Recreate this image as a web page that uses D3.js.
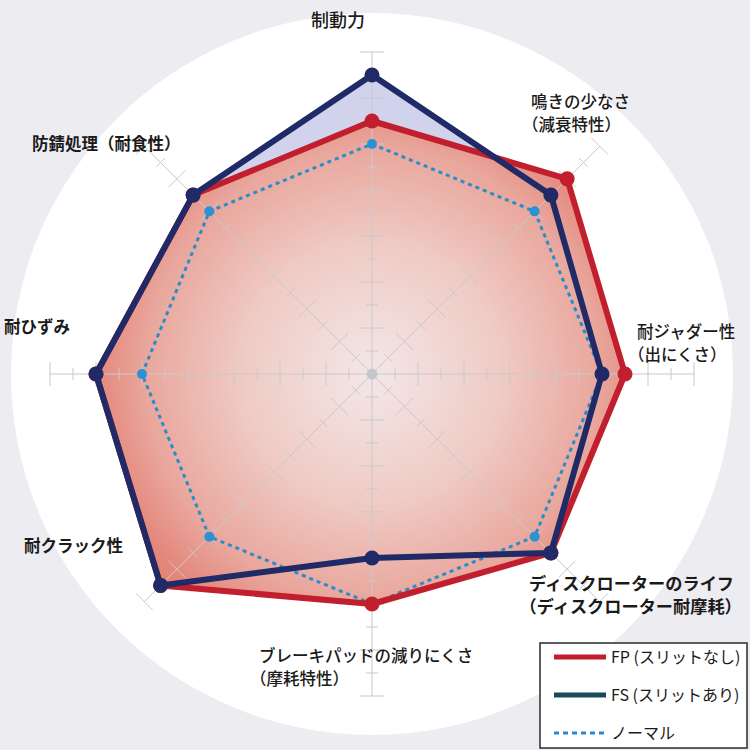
<!DOCTYPE html>
<html>
<head>
<meta charset="utf-8">
<script src="https://cdn.jsdelivr.net/npm/d3@7"></script>
<style>
  html, body { margin: 0; padding: 0; background: #ededf1; }
  svg { display: block; }
</style>
</head>
<body>
<svg id="chart" width="750" height="750"></svg>
<script>
// axes, clockwise from the top
const axes = ['制動力', '鳴きの少なさ', '耐ジャダー性', 'ディスクローターのライフ',
  'ブレーキパッドの減りにくさ', '耐クラック性', '耐ひずみ', '防錆処理（耐食性）'];
const fpValues = [5.5, 6, 5.5, 5.5, 5, 6.5, 6, 5.5];
const fsValues = [6.5, 5.5, 5, 5.5, 4, 6.5, 6, 5.5];
const normalValues = [5, 5, 5, 5, 5, 5, 5, 5];
const tickValues = d3.range(0.5, 7.01, 0.5);
const legendLabels = ['FP (スリットなし)', 'FS (スリットあり)', 'ノーマル'];

// label text lines with their positions
const axisLabels = [
  { lines: ['制動力'], x: 311, y: 27, w: 500, size: 18 },
  { lines: ['鳴きの少なさ', '（減衰特性）'], x: 531, y: 108, w: 500 },
  { lines: ['耐ジャダー性', '（出にくさ）'], x: 637, y: 338, w: 500 },
  { lines: ['ディスクローターのライフ', '（ディスクローター耐摩耗）'], x: 529, y: 590, w: 700, size: 17.2 },
  { lines: ['ブレーキパッドの減りにくさ', '（摩耗特性）'], x: 259, y: 662, w: 500 },
  { lines: ['耐クラック性'], x: 24, y: 552, w: 700 },
  { lines: ['耐ひずみ'], x: 4, y: 333, w: 700 },
  { lines: ['防錆処理（耐食性）'], x: 32, y: 150, w: 700 }
];

const width = 750, height = 750;
const cx = 372, cy = 374;
const svg = d3.select('#chart');
const font = '"Noto Sans CJK JP", "Noto Sans", sans-serif';

const r = d3.scaleLinear().domain([0, 7]).range([0, 322]);
const angle = d3.scalePoint().domain(d3.range(axes.length)).range([0, 2 * Math.PI * 7 / 8]);

const defs = svg.append('defs');
const grad = defs.append('radialGradient')
  .attr('id', 'fpGrad')
  .attr('gradientUnits', 'userSpaceOnUse')
  .attr('cx', 0).attr('cy', 0).attr('r', r(7));
[[0, '#f3e7e7'], [0.4, '#efcbc5'], [0.7, '#e9a79d'], [0.85, '#e4897e'], [1, '#e07869']]
  .forEach(([o, c]) => grad.append('stop').attr('offset', o).attr('stop-color', c));

// background disc
svg.append('rect').attr('width', width).attr('height', height).attr('fill', '#ededf1');
svg.append('circle').attr('cx', cx).attr('cy', cy).attr('r', 361).attr('fill', '#ffffff');

const g = svg.append('g').attr('transform', `translate(${cx},${cy})`);

const line = d3.lineRadial()
  .angle((d, i) => angle(i))
  .radius(d => r(d))
  .curve(d3.curveLinearClosed);

const pt = (v, i) => [Math.sin(angle(i)) * r(v), -Math.cos(angle(i)) * r(v)];

// fills
g.append('path').datum(fsValues).attr('d', line).attr('fill', '#d0d3eb');
g.append('path').datum(fpValues).attr('d', line).attr('fill', 'url(#fpGrad)');

// axis lines and ticks
const grid = g.append('g').attr('stroke', '#c9c9cb').attr('stroke-width', 1).attr('fill', 'none');
axes.forEach((a, i) => {
  const ang = angle(i);
  const [x2, y2] = pt(7, i);
  grid.append('line').attr('x1', 0).attr('y1', 0).attr('x2', x2).attr('y2', y2);
  const px = Math.cos(ang), py = Math.sin(ang);
  tickValues.forEach(t => {
    const [tx, ty] = pt(t, i);
    const half = Number.isInteger(t) ? 12 : 6;
    grid.append('line')
      .attr('x1', tx - px * half).attr('y1', ty - py * half)
      .attr('x2', tx + px * half).attr('y2', ty + py * half);
  });
});
g.append('circle').attr('r', 5.5).attr('fill', '#c3c6ca');

// normal (dotted)
g.append('path').datum(normalValues).attr('d', line)
  .attr('fill', 'none').attr('stroke', '#2b8ccb').attr('stroke-width', 3)
  .attr('stroke-dasharray', '4 4');
g.selectAll('.ndot').data(normalValues).join('circle')
  .attr('cx', (d, i) => pt(d, i)[0]).attr('cy', (d, i) => pt(d, i)[1])
  .attr('r', 5).attr('fill', '#2b92d3');

// FP
g.append('path').datum(fpValues).attr('d', line)
  .attr('fill', 'none').attr('stroke', '#c11f2d').attr('stroke-width', 6)
  .attr('stroke-linejoin', 'round');
g.selectAll('.fpdot').data(fpValues).join('circle')
  .attr('cx', (d, i) => pt(d, i)[0]).attr('cy', (d, i) => pt(d, i)[1])
  .attr('r', 7.5).attr('fill', '#c11f2d');

// FS
g.append('path').datum(fsValues).attr('d', line)
  .attr('fill', 'none').attr('stroke', '#1f2a66').attr('stroke-width', 6)
  .attr('stroke-linejoin', 'round');
g.selectAll('.fsdot').data(fsValues).join('circle')
  .attr('cx', (d, i) => pt(d, i)[0]).attr('cy', (d, i) => pt(d, i)[1])
  .attr('r', 7.5).attr('fill', '#1f2a66');

// axis labels; lines opening with a full-width bracket pulled left
axisLabels.forEach(l => {
  const size = l.size || 16.5;
  const t = svg.append('text')
    .attr('font-family', font).attr('font-size', size).attr('font-weight', l.w)
    .attr('fill', '#1a1a1a');
  l.lines.forEach((s, k) => {
    const shift = s.startsWith('（') ? -size * 0.55 : 0;
    t.append('tspan').attr('x', l.x + shift).attr('y', l.y + k * 23).text(s);
  });
});

// legend
const lg = svg.append('g').attr('transform', 'translate(540,643)');
lg.append('rect').attr('width', 207).attr('height', 105)
  .attr('fill', '#ffffff').attr('stroke', '#2a2a2a').attr('stroke-width', 1.5);
const legendStyles = [
  { color: '#c11f2d', width: 5, dash: null },
  { color: '#1b4a5a', width: 5, dash: null },
  { color: '#2b8ccb', width: 3, dash: '5 4' }
];
legendLabels.forEach((name, k) => {
  const y = 14 + k * 38;
  const s = legendStyles[k];
  lg.append('line').attr('x1', 14).attr('x2', 66).attr('y1', y).attr('y2', y)
    .attr('stroke', s.color).attr('stroke-width', s.width)
    .attr('stroke-dasharray', s.dash);
  lg.append('text').attr('x', 71).attr('y', y + 6)
    .attr('font-family', font).attr('font-size', 16).attr('fill', '#1a1a1a')
    .text(name);
});
</script>
</body>
</html>
